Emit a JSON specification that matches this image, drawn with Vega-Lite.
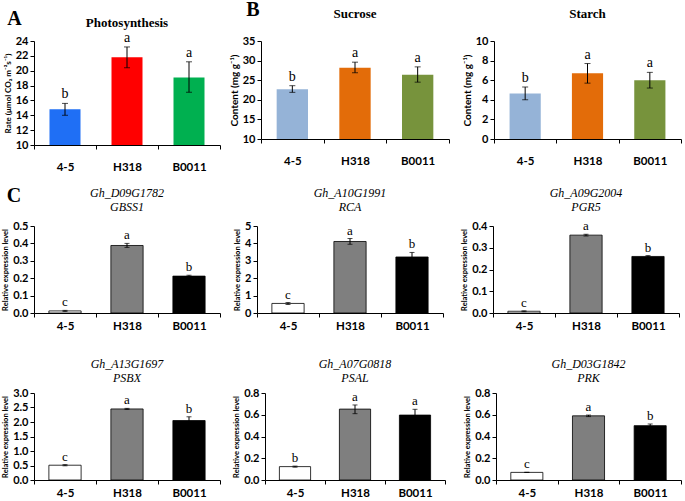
{
  "$schema": "https://vega.github.io/schema/vega-lite/v6.json",
  "background": "white",
  "padding": {"left": 1, "top": 0, "right": 0, "bottom": 0},
  "datasets": {
    "d": [
      {"p": "Photo", "g": "4-5", "v": 14.8, "lo": 14.0, "hi": 15.6, "s": "b"},
      {"p": "Photo", "g": "H318", "v": 21.8, "lo": 20.4, "hi": 23.2, "s": "a"},
      {"p": "Photo", "g": "B0011", "v": 19.1, "lo": 17.1, "hi": 21.2, "s": "a"},
      {"p": "Sucrose", "g": "4-5", "v": 22.7, "lo": 21.9, "hi": 23.6, "s": "b"},
      {"p": "Sucrose", "g": "H318", "v": 28.2, "lo": 26.9, "hi": 29.6, "s": "a"},
      {"p": "Sucrose", "g": "B0011", "v": 26.4, "lo": 24.5, "hi": 28.4, "s": "a"},
      {"p": "Starch", "g": "4-5", "v": 4.65, "lo": 4.0, "hi": 5.3, "s": "b"},
      {"p": "Starch", "g": "H318", "v": 6.7, "lo": 5.7, "hi": 7.7, "s": "a"},
      {"p": "Starch", "g": "B0011", "v": 6.0, "lo": 5.2, "hi": 6.8, "s": "a"},
      {"p": "GBSS1", "g": "4-5", "v": 0.012, "lo": 0.009, "hi": 0.015, "s": "c"},
      {"p": "GBSS1", "g": "H318", "v": 0.388, "lo": 0.377, "hi": 0.4, "s": "a"},
      {"p": "GBSS1", "g": "B0011", "v": 0.212, "lo": 0.206, "hi": 0.217, "s": "b"},
      {"p": "RCA", "g": "4-5", "v": 0.55, "lo": 0.49, "hi": 0.6, "s": "c"},
      {"p": "RCA", "g": "H318", "v": 4.11, "lo": 3.95, "hi": 4.28, "s": "a"},
      {"p": "RCA", "g": "B0011", "v": 3.22, "lo": 3.0, "hi": 3.48, "s": "b"},
      {"p": "PGR5", "g": "4-5", "v": 0.008, "lo": 0.006, "hi": 0.01, "s": "c"},
      {"p": "PGR5", "g": "H318", "v": 0.358, "lo": 0.354, "hi": 0.362, "s": "a"},
      {"p": "PGR5", "g": "B0011", "v": 0.26, "lo": 0.257, "hi": 0.264, "s": "b"},
      {"p": "PSBX", "g": "4-5", "v": 0.51, "lo": 0.49, "hi": 0.53, "s": "c"},
      {"p": "PSBX", "g": "H318", "v": 2.45, "lo": 2.43, "hi": 2.47, "s": "a"},
      {"p": "PSBX", "g": "B0011", "v": 2.05, "lo": 1.92, "hi": 2.18, "s": "b"},
      {"p": "PSAL", "g": "4-5", "v": 0.123, "lo": 0.118, "hi": 0.128, "s": "b"},
      {"p": "PSAL", "g": "H318", "v": 0.652, "lo": 0.61, "hi": 0.69, "s": "a"},
      {"p": "PSAL", "g": "B0011", "v": 0.597, "lo": 0.55, "hi": 0.65, "s": "a"},
      {"p": "PRK", "g": "4-5", "v": 0.07, "lo": 0.068, "hi": 0.072, "s": "c"},
      {"p": "PRK", "g": "H318", "v": 0.59, "lo": 0.583, "hi": 0.597, "s": "a"},
      {"p": "PRK", "g": "B0011", "v": 0.5, "lo": 0.487, "hi": 0.515, "s": "b"}
    ]
  },
  "resolve": {"scale": {"color": "independent"}},
  "vconcat": [
    {
      "resolve": {"scale": {"color": "independent"}},
      "hconcat": [
        {
          "title": {"text": "A", "font": "Liberation Serif", "fontSize": 20, "fontWeight": "bold", "anchor": "start", "frame": "bounds", "offset": -12, "dx": 3},
          "hconcat": [
            {
              "width": 186, "height": 104,
              "title": {"text": "Photosynthesis", "font": "Liberation Serif", "fontSize": 13, "fontWeight": "bold", "offset": 1},
              "data": {"name": "d"},
              "transform": [{"filter": "datum.p === 'Photo'"}],
              "encoding": {"x": {"field": "g", "type": "nominal", "sort": ["4-5", "H318", "B0011"], "scale": {"paddingInner": 0, "paddingOuter": 0}, "axis": {"title": null, "labelPadding": 12}}},
              "layer": [
                {"mark": {"type": "bar", "width": {"band": 0.5}}, "encoding": {"y": {"field": "v", "type": "quantitative", "scale": {"domain": [10, 24], "nice": false}, "axis": {"values": [10, 12, 14, 16, 18, 20, 22, 24], "title": "Rate (μmol CO₂ m⁻²s⁻¹)", "titleFontSize": 8}}, "y2": {"datum": 10}, "color": {"field": "g", "type": "nominal", "scale": {"domain": ["4-5", "H318", "B0011"], "range": ["#1f6ff5", "#ff0000", "#00b050"]}, "legend": null}}},
                {"mark": {"type": "rule", "color": "black", "strokeWidth": 1}, "encoding": {"y": {"field": "lo", "type": "quantitative", "scale": {"domain": [10, 24], "nice": false}, "axis": {"values": [10, 12, 14, 16, 18, 20, 22, 24], "title": "Rate (μmol CO₂ m⁻²s⁻¹)", "titleFontSize": 8}}, "y2": {"field": "hi"}}},
                {"mark": {"type": "tick", "color": "black", "size": 6, "thickness": 1}, "encoding": {"y": {"field": "lo", "type": "quantitative", "scale": {"domain": [10, 24], "nice": false}, "axis": {"values": [10, 12, 14, 16, 18, 20, 22, 24], "title": "Rate (μmol CO₂ m⁻²s⁻¹)", "titleFontSize": 8}}}},
                {"mark": {"type": "tick", "color": "black", "size": 6, "thickness": 1}, "encoding": {"y": {"field": "hi", "type": "quantitative", "scale": {"domain": [10, 24], "nice": false}, "axis": {"values": [10, 12, 14, 16, 18, 20, 22, 24], "title": "Rate (μmol CO₂ m⁻²s⁻¹)", "titleFontSize": 8}}}},
                {"mark": {"type": "text", "color": "black", "font": "Liberation Serif", "fontSize": 14, "baseline": "alphabetic", "dy": -5}, "encoding": {"y": {"field": "hi", "type": "quantitative", "scale": {"domain": [10, 24], "nice": false}, "axis": {"values": [10, 12, 14, 16, 18, 20, 22, 24], "title": "Rate (μmol CO₂ m⁻²s⁻¹)", "titleFontSize": 8}}, "text": {"field": "s"}}}
              ]
            }
          ]
        },
        {
          "title": {"text": "B", "font": "Liberation Serif", "fontSize": 20, "fontWeight": "bold", "anchor": "start", "frame": "bounds", "offset": -12, "dx": 17},
          "spacing": 12,
          "hconcat": [
            {
              "width": 188, "height": 98,
              "title": {"text": "Sucrose", "font": "Liberation Serif", "fontSize": 13, "fontWeight": "bold", "offset": 14},
              "data": {"name": "d"},
              "transform": [{"filter": "datum.p === 'Sucrose'"}],
              "encoding": {"x": {"field": "g", "type": "nominal", "sort": ["4-5", "H318", "B0011"], "scale": {"paddingInner": 0, "paddingOuter": 0}, "axis": {"title": null, "labelPadding": 12}}},
              "layer": [
                {"mark": {"type": "bar", "width": {"band": 0.5}}, "encoding": {"y": {"field": "v", "type": "quantitative", "scale": {"domain": [10, 35], "nice": false}, "axis": {"values": [10, 15, 20, 25, 30, 35], "title": "Content (mg g⁻¹)", "titleFontSize": 10}}, "y2": {"datum": 10}, "color": {"field": "g", "type": "nominal", "scale": {"domain": ["4-5", "H318", "B0011"], "range": ["#95b3d7", "#e36c09", "#77933c"]}, "legend": null}}},
                {"mark": {"type": "rule", "color": "black", "strokeWidth": 1}, "encoding": {"y": {"field": "lo", "type": "quantitative", "scale": {"domain": [10, 35], "nice": false}, "axis": {"values": [10, 15, 20, 25, 30, 35], "title": "Content (mg g⁻¹)", "titleFontSize": 10}}, "y2": {"field": "hi"}}},
                {"mark": {"type": "tick", "color": "black", "size": 6, "thickness": 1}, "encoding": {"y": {"field": "lo", "type": "quantitative", "scale": {"domain": [10, 35], "nice": false}, "axis": {"values": [10, 15, 20, 25, 30, 35], "title": "Content (mg g⁻¹)", "titleFontSize": 10}}}},
                {"mark": {"type": "tick", "color": "black", "size": 6, "thickness": 1}, "encoding": {"y": {"field": "hi", "type": "quantitative", "scale": {"domain": [10, 35], "nice": false}, "axis": {"values": [10, 15, 20, 25, 30, 35], "title": "Content (mg g⁻¹)", "titleFontSize": 10}}}},
                {"mark": {"type": "text", "color": "black", "font": "Liberation Serif", "fontSize": 14, "baseline": "alphabetic", "dy": -5}, "encoding": {"y": {"field": "hi", "type": "quantitative", "scale": {"domain": [10, 35], "nice": false}, "axis": {"values": [10, 15, 20, 25, 30, 35], "title": "Content (mg g⁻¹)", "titleFontSize": 10}}, "text": {"field": "s"}}}
              ]
            },
            {
              "width": 187, "height": 98,
              "title": {"text": "Starch", "font": "Liberation Serif", "fontSize": 13, "fontWeight": "bold", "offset": 14},
              "data": {"name": "d"},
              "transform": [{"filter": "datum.p === 'Starch'"}],
              "encoding": {"x": {"field": "g", "type": "nominal", "sort": ["4-5", "H318", "B0011"], "scale": {"paddingInner": 0, "paddingOuter": 0}, "axis": {"title": null, "labelPadding": 12}}},
              "layer": [
                {"mark": {"type": "bar", "width": {"band": 0.5}}, "encoding": {"y": {"field": "v", "type": "quantitative", "scale": {"domain": [0, 10], "nice": false}, "axis": {"values": [0, 2, 4, 6, 8, 10], "title": "Content (mg g⁻¹)", "titleFontSize": 10}}, "color": {"field": "g", "type": "nominal", "scale": {"domain": ["4-5", "H318", "B0011"], "range": ["#95b3d7", "#e36c09", "#77933c"]}, "legend": null}}},
                {"mark": {"type": "rule", "color": "black", "strokeWidth": 1}, "encoding": {"y": {"field": "lo", "type": "quantitative", "scale": {"domain": [0, 10], "nice": false}, "axis": {"values": [0, 2, 4, 6, 8, 10], "title": "Content (mg g⁻¹)", "titleFontSize": 10}}, "y2": {"field": "hi"}}},
                {"mark": {"type": "tick", "color": "black", "size": 6, "thickness": 1}, "encoding": {"y": {"field": "lo", "type": "quantitative", "scale": {"domain": [0, 10], "nice": false}, "axis": {"values": [0, 2, 4, 6, 8, 10], "title": "Content (mg g⁻¹)", "titleFontSize": 10}}}},
                {"mark": {"type": "tick", "color": "black", "size": 6, "thickness": 1}, "encoding": {"y": {"field": "hi", "type": "quantitative", "scale": {"domain": [0, 10], "nice": false}, "axis": {"values": [0, 2, 4, 6, 8, 10], "title": "Content (mg g⁻¹)", "titleFontSize": 10}}}},
                {"mark": {"type": "text", "color": "black", "font": "Liberation Serif", "fontSize": 14, "baseline": "alphabetic", "dy": -5}, "encoding": {"y": {"field": "hi", "type": "quantitative", "scale": {"domain": [0, 10], "nice": false}, "axis": {"values": [0, 2, 4, 6, 8, 10], "title": "Content (mg g⁻¹)", "titleFontSize": 10}}, "text": {"field": "s"}}}
              ]
            }
          ]
        }
      ],
      "spacing": 8
    },
    {
      "title": {"text": "C", "font": "Liberation Serif", "fontSize": 20, "fontWeight": "bold", "anchor": "start", "frame": "bounds", "offset": -19, "dx": 5},
      "spacing": 26,
      "vconcat": [
        {
          "spacing": 12,
          "hconcat": [
            {
              "width": 186, "height": 87,
              "title": {"text": ["Gh_D09G1782", "GBSS1"], "font": "Liberation Serif", "fontSize": 12, "fontStyle": "italic", "fontWeight": "normal", "lineHeight": 14, "offset": 6},
              "data": {"name": "d"},
              "transform": [{"filter": "datum.p === 'GBSS1'"}],
              "encoding": {"x": {"field": "g", "type": "nominal", "sort": ["4-5", "H318", "B0011"], "scale": {"paddingInner": 0, "paddingOuter": 0}, "axis": {"title": null, "labelPadding": 3}}},
              "layer": [
                {"mark": {"type": "bar", "width": {"band": 0.52}, "stroke": "black", "strokeWidth": 0.8}, "encoding": {"y": {"field": "v", "type": "quantitative", "scale": {"domain": [0, 0.5], "nice": false}, "axis": {"values": [0, 0.1, 0.2, 0.3, 0.4, 0.5], "title": "Relative expression level"}}, "color": {"field": "g", "type": "nominal", "scale": {"domain": ["4-5", "H318", "B0011"], "range": ["#ffffff", "#7f7f7f", "#000000"]}, "legend": null}}},
                {"mark": {"type": "rule", "color": "black", "strokeWidth": 1}, "encoding": {"y": {"field": "lo", "type": "quantitative", "scale": {"domain": [0, 0.5], "nice": false}, "axis": {"values": [0, 0.1, 0.2, 0.3, 0.4, 0.5], "title": "Relative expression level"}}, "y2": {"field": "hi"}}},
                {"mark": {"type": "tick", "color": "black", "size": 5, "thickness": 1}, "encoding": {"y": {"field": "lo", "type": "quantitative", "scale": {"domain": [0, 0.5], "nice": false}, "axis": {"values": [0, 0.1, 0.2, 0.3, 0.4, 0.5], "title": "Relative expression level"}}}},
                {"mark": {"type": "tick", "color": "black", "size": 5, "thickness": 1}, "encoding": {"y": {"field": "hi", "type": "quantitative", "scale": {"domain": [0, 0.5], "nice": false}, "axis": {"values": [0, 0.1, 0.2, 0.3, 0.4, 0.5], "title": "Relative expression level"}}}},
                {"mark": {"type": "text", "color": "black", "font": "Liberation Serif", "fontSize": 13, "baseline": "alphabetic", "dy": -4}, "encoding": {"y": {"field": "hi", "type": "quantitative", "scale": {"domain": [0, 0.5], "nice": false}, "axis": {"values": [0, 0.1, 0.2, 0.3, 0.4, 0.5], "title": "Relative expression level"}}, "text": {"field": "s"}}}
              ]
            },
            {
              "spacing": 16,
              "hconcat": [
                {
                  "width": 186, "height": 87,
                  "title": {"text": ["Gh_A10G1991", "RCA"], "font": "Liberation Serif", "fontSize": 12, "fontStyle": "italic", "fontWeight": "normal", "lineHeight": 14, "offset": 6},
                  "data": {"name": "d"},
                  "transform": [{"filter": "datum.p === 'RCA'"}],
                  "encoding": {"x": {"field": "g", "type": "nominal", "sort": ["4-5", "H318", "B0011"], "scale": {"paddingInner": 0, "paddingOuter": 0}, "axis": {"title": null, "labelPadding": 3}}},
                  "layer": [
                    {"mark": {"type": "bar", "width": {"band": 0.52}, "stroke": "black", "strokeWidth": 0.8}, "encoding": {"y": {"field": "v", "type": "quantitative", "scale": {"domain": [0, 5], "nice": false}, "axis": {"values": [0, 1, 2, 3, 4, 5], "title": "Relative expression level"}}, "color": {"field": "g", "type": "nominal", "scale": {"domain": ["4-5", "H318", "B0011"], "range": ["#ffffff", "#7f7f7f", "#000000"]}, "legend": null}}},
                    {"mark": {"type": "rule", "color": "black", "strokeWidth": 1}, "encoding": {"y": {"field": "lo", "type": "quantitative", "scale": {"domain": [0, 5], "nice": false}, "axis": {"values": [0, 1, 2, 3, 4, 5], "title": "Relative expression level"}}, "y2": {"field": "hi"}}},
                    {"mark": {"type": "tick", "color": "black", "size": 5, "thickness": 1}, "encoding": {"y": {"field": "lo", "type": "quantitative", "scale": {"domain": [0, 5], "nice": false}, "axis": {"values": [0, 1, 2, 3, 4, 5], "title": "Relative expression level"}}}},
                    {"mark": {"type": "tick", "color": "black", "size": 5, "thickness": 1}, "encoding": {"y": {"field": "hi", "type": "quantitative", "scale": {"domain": [0, 5], "nice": false}, "axis": {"values": [0, 1, 2, 3, 4, 5], "title": "Relative expression level"}}}},
                    {"mark": {"type": "text", "color": "black", "font": "Liberation Serif", "fontSize": 13, "baseline": "alphabetic", "dy": -4}, "encoding": {"y": {"field": "hi", "type": "quantitative", "scale": {"domain": [0, 5], "nice": false}, "axis": {"values": [0, 1, 2, 3, 4, 5], "title": "Relative expression level"}}, "text": {"field": "s"}}}
                  ]
                },
                {
                  "width": 186, "height": 87,
                  "title": {"text": ["Gh_A09G2004", "PGR5"], "font": "Liberation Serif", "fontSize": 12, "fontStyle": "italic", "fontWeight": "normal", "lineHeight": 14, "offset": 6},
                  "data": {"name": "d"},
                  "transform": [{"filter": "datum.p === 'PGR5'"}],
                  "encoding": {"x": {"field": "g", "type": "nominal", "sort": ["4-5", "H318", "B0011"], "scale": {"paddingInner": 0, "paddingOuter": 0}, "axis": {"title": null, "labelPadding": 3}}},
                  "layer": [
                    {"mark": {"type": "bar", "width": {"band": 0.52}, "stroke": "black", "strokeWidth": 0.8}, "encoding": {"y": {"field": "v", "type": "quantitative", "scale": {"domain": [0, 0.4], "nice": false}, "axis": {"values": [0, 0.1, 0.2, 0.3, 0.4], "title": "Relative expression level"}}, "color": {"field": "g", "type": "nominal", "scale": {"domain": ["4-5", "H318", "B0011"], "range": ["#ffffff", "#7f7f7f", "#000000"]}, "legend": null}}},
                    {"mark": {"type": "rule", "color": "black", "strokeWidth": 1}, "encoding": {"y": {"field": "lo", "type": "quantitative", "scale": {"domain": [0, 0.4], "nice": false}, "axis": {"values": [0, 0.1, 0.2, 0.3, 0.4], "title": "Relative expression level"}}, "y2": {"field": "hi"}}},
                    {"mark": {"type": "tick", "color": "black", "size": 5, "thickness": 1}, "encoding": {"y": {"field": "lo", "type": "quantitative", "scale": {"domain": [0, 0.4], "nice": false}, "axis": {"values": [0, 0.1, 0.2, 0.3, 0.4], "title": "Relative expression level"}}}},
                    {"mark": {"type": "tick", "color": "black", "size": 5, "thickness": 1}, "encoding": {"y": {"field": "hi", "type": "quantitative", "scale": {"domain": [0, 0.4], "nice": false}, "axis": {"values": [0, 0.1, 0.2, 0.3, 0.4], "title": "Relative expression level"}}}},
                    {"mark": {"type": "text", "color": "black", "font": "Liberation Serif", "fontSize": 13, "baseline": "alphabetic", "dy": -4}, "encoding": {"y": {"field": "hi", "type": "quantitative", "scale": {"domain": [0, 0.4], "nice": false}, "axis": {"values": [0, 0.1, 0.2, 0.3, 0.4], "title": "Relative expression level"}}, "text": {"field": "s"}}}
                  ]
                }
              ]
            }
          ]
        },
        {
          "spacing": 11,
          "hconcat": [
            {
              "width": 186, "height": 87,
              "title": {"text": ["Gh_A13G1697", "PSBX"], "font": "Liberation Serif", "fontSize": 12, "fontStyle": "italic", "fontWeight": "normal", "lineHeight": 14, "offset": 2},
              "data": {"name": "d"},
              "transform": [{"filter": "datum.p === 'PSBX'"}],
              "encoding": {"x": {"field": "g", "type": "nominal", "sort": ["4-5", "H318", "B0011"], "scale": {"paddingInner": 0, "paddingOuter": 0}, "axis": {"title": null, "labelPadding": 3}}},
              "layer": [
                {"mark": {"type": "bar", "width": {"band": 0.52}, "stroke": "black", "strokeWidth": 0.8}, "encoding": {"y": {"field": "v", "type": "quantitative", "scale": {"domain": [0, 3], "nice": false}, "axis": {"values": [0, 0.5, 1, 1.5, 2, 2.5, 3], "title": "Relative expression level"}}, "color": {"field": "g", "type": "nominal", "scale": {"domain": ["4-5", "H318", "B0011"], "range": ["#ffffff", "#7f7f7f", "#000000"]}, "legend": null}}},
                {"mark": {"type": "rule", "color": "black", "strokeWidth": 1}, "encoding": {"y": {"field": "lo", "type": "quantitative", "scale": {"domain": [0, 3], "nice": false}, "axis": {"values": [0, 0.5, 1, 1.5, 2, 2.5, 3], "title": "Relative expression level"}}, "y2": {"field": "hi"}}},
                {"mark": {"type": "tick", "color": "black", "size": 5, "thickness": 1}, "encoding": {"y": {"field": "lo", "type": "quantitative", "scale": {"domain": [0, 3], "nice": false}, "axis": {"values": [0, 0.5, 1, 1.5, 2, 2.5, 3], "title": "Relative expression level"}}}},
                {"mark": {"type": "tick", "color": "black", "size": 5, "thickness": 1}, "encoding": {"y": {"field": "hi", "type": "quantitative", "scale": {"domain": [0, 3], "nice": false}, "axis": {"values": [0, 0.5, 1, 1.5, 2, 2.5, 3], "title": "Relative expression level"}}}},
                {"mark": {"type": "text", "color": "black", "font": "Liberation Serif", "fontSize": 13, "baseline": "alphabetic", "dy": -4}, "encoding": {"y": {"field": "hi", "type": "quantitative", "scale": {"domain": [0, 3], "nice": false}, "axis": {"values": [0, 0.5, 1, 1.5, 2, 2.5, 3], "title": "Relative expression level"}}, "text": {"field": "s"}}}
              ]
            },
            {
              "spacing": 17,
              "hconcat": [
                {
                  "width": 180, "height": 87,
                  "title": {"text": ["Gh_A07G0818", "PSAL"], "font": "Liberation Serif", "fontSize": 12, "fontStyle": "italic", "fontWeight": "normal", "lineHeight": 14, "offset": 2},
                  "data": {"name": "d"},
                  "transform": [{"filter": "datum.p === 'PSAL'"}],
                  "encoding": {"x": {"field": "g", "type": "nominal", "sort": ["4-5", "H318", "B0011"], "scale": {"paddingInner": 0, "paddingOuter": 0}, "axis": {"title": null, "labelPadding": 3}}},
                  "layer": [
                    {"mark": {"type": "bar", "width": {"band": 0.52}, "stroke": "black", "strokeWidth": 0.8}, "encoding": {"y": {"field": "v", "type": "quantitative", "scale": {"domain": [0, 0.8], "nice": false}, "axis": {"values": [0, 0.2, 0.4, 0.6, 0.8], "title": "Relative expression level"}}, "color": {"field": "g", "type": "nominal", "scale": {"domain": ["4-5", "H318", "B0011"], "range": ["#ffffff", "#7f7f7f", "#000000"]}, "legend": null}}},
                    {"mark": {"type": "rule", "color": "black", "strokeWidth": 1}, "encoding": {"y": {"field": "lo", "type": "quantitative", "scale": {"domain": [0, 0.8], "nice": false}, "axis": {"values": [0, 0.2, 0.4, 0.6, 0.8], "title": "Relative expression level"}}, "y2": {"field": "hi"}}},
                    {"mark": {"type": "tick", "color": "black", "size": 5, "thickness": 1}, "encoding": {"y": {"field": "lo", "type": "quantitative", "scale": {"domain": [0, 0.8], "nice": false}, "axis": {"values": [0, 0.2, 0.4, 0.6, 0.8], "title": "Relative expression level"}}}},
                    {"mark": {"type": "tick", "color": "black", "size": 5, "thickness": 1}, "encoding": {"y": {"field": "hi", "type": "quantitative", "scale": {"domain": [0, 0.8], "nice": false}, "axis": {"values": [0, 0.2, 0.4, 0.6, 0.8], "title": "Relative expression level"}}}},
                    {"mark": {"type": "text", "color": "black", "font": "Liberation Serif", "fontSize": 13, "baseline": "alphabetic", "dy": -4}, "encoding": {"y": {"field": "hi", "type": "quantitative", "scale": {"domain": [0, 0.8], "nice": false}, "axis": {"values": [0, 0.2, 0.4, 0.6, 0.8], "title": "Relative expression level"}}, "text": {"field": "s"}}}
                  ]
                },
                {
                  "width": 185, "height": 87,
                  "title": {"text": ["Gh_D03G1842", "PRK"], "font": "Liberation Serif", "fontSize": 12, "fontStyle": "italic", "fontWeight": "normal", "lineHeight": 14, "offset": 2},
                  "data": {"name": "d"},
                  "transform": [{"filter": "datum.p === 'PRK'"}],
                  "encoding": {"x": {"field": "g", "type": "nominal", "sort": ["4-5", "H318", "B0011"], "scale": {"paddingInner": 0, "paddingOuter": 0}, "axis": {"title": null, "labelPadding": 3}}},
                  "layer": [
                    {"mark": {"type": "bar", "width": {"band": 0.52}, "stroke": "black", "strokeWidth": 0.8}, "encoding": {"y": {"field": "v", "type": "quantitative", "scale": {"domain": [0, 0.8], "nice": false}, "axis": {"values": [0, 0.2, 0.4, 0.6, 0.8], "title": "Relative expression level"}}, "color": {"field": "g", "type": "nominal", "scale": {"domain": ["4-5", "H318", "B0011"], "range": ["#ffffff", "#7f7f7f", "#000000"]}, "legend": null}}},
                    {"mark": {"type": "rule", "color": "black", "strokeWidth": 1}, "encoding": {"y": {"field": "lo", "type": "quantitative", "scale": {"domain": [0, 0.8], "nice": false}, "axis": {"values": [0, 0.2, 0.4, 0.6, 0.8], "title": "Relative expression level"}}, "y2": {"field": "hi"}}},
                    {"mark": {"type": "tick", "color": "black", "size": 5, "thickness": 1}, "encoding": {"y": {"field": "lo", "type": "quantitative", "scale": {"domain": [0, 0.8], "nice": false}, "axis": {"values": [0, 0.2, 0.4, 0.6, 0.8], "title": "Relative expression level"}}}},
                    {"mark": {"type": "tick", "color": "black", "size": 5, "thickness": 1}, "encoding": {"y": {"field": "hi", "type": "quantitative", "scale": {"domain": [0, 0.8], "nice": false}, "axis": {"values": [0, 0.2, 0.4, 0.6, 0.8], "title": "Relative expression level"}}}},
                    {"mark": {"type": "text", "color": "black", "font": "Liberation Serif", "fontSize": 13, "baseline": "alphabetic", "dy": -4}, "encoding": {"y": {"field": "hi", "type": "quantitative", "scale": {"domain": [0, 0.8], "nice": false}, "axis": {"values": [0, 0.2, 0.4, 0.6, 0.8], "title": "Relative expression level"}}, "text": {"field": "s"}}}
                  ]
                }
              ]
            }
          ]
        }
      ]
    }
  ],
  "spacing": 13,
  "config": {
    "view": {"stroke": null},
    "font": "Lato",
    "axis": {"domainColor": "black", "tickColor": "black", "labelColor": "black", "titleColor": "black", "grid": false, "labelFont": "Lato", "labelFontWeight": "bold", "titleFont": "Lato", "tickSize": 4},
    "axisX": {"labelFontSize": 11.5, "labelAngle": 0, "tickBand": "extent"},
    "axisY": {"labelFontSize": 11, "labelPadding": 2, "titleFontSize": 7.5, "titleFontWeight": "bold", "titlePadding": 3},
    "title": {"color": "black"}
  }
}
